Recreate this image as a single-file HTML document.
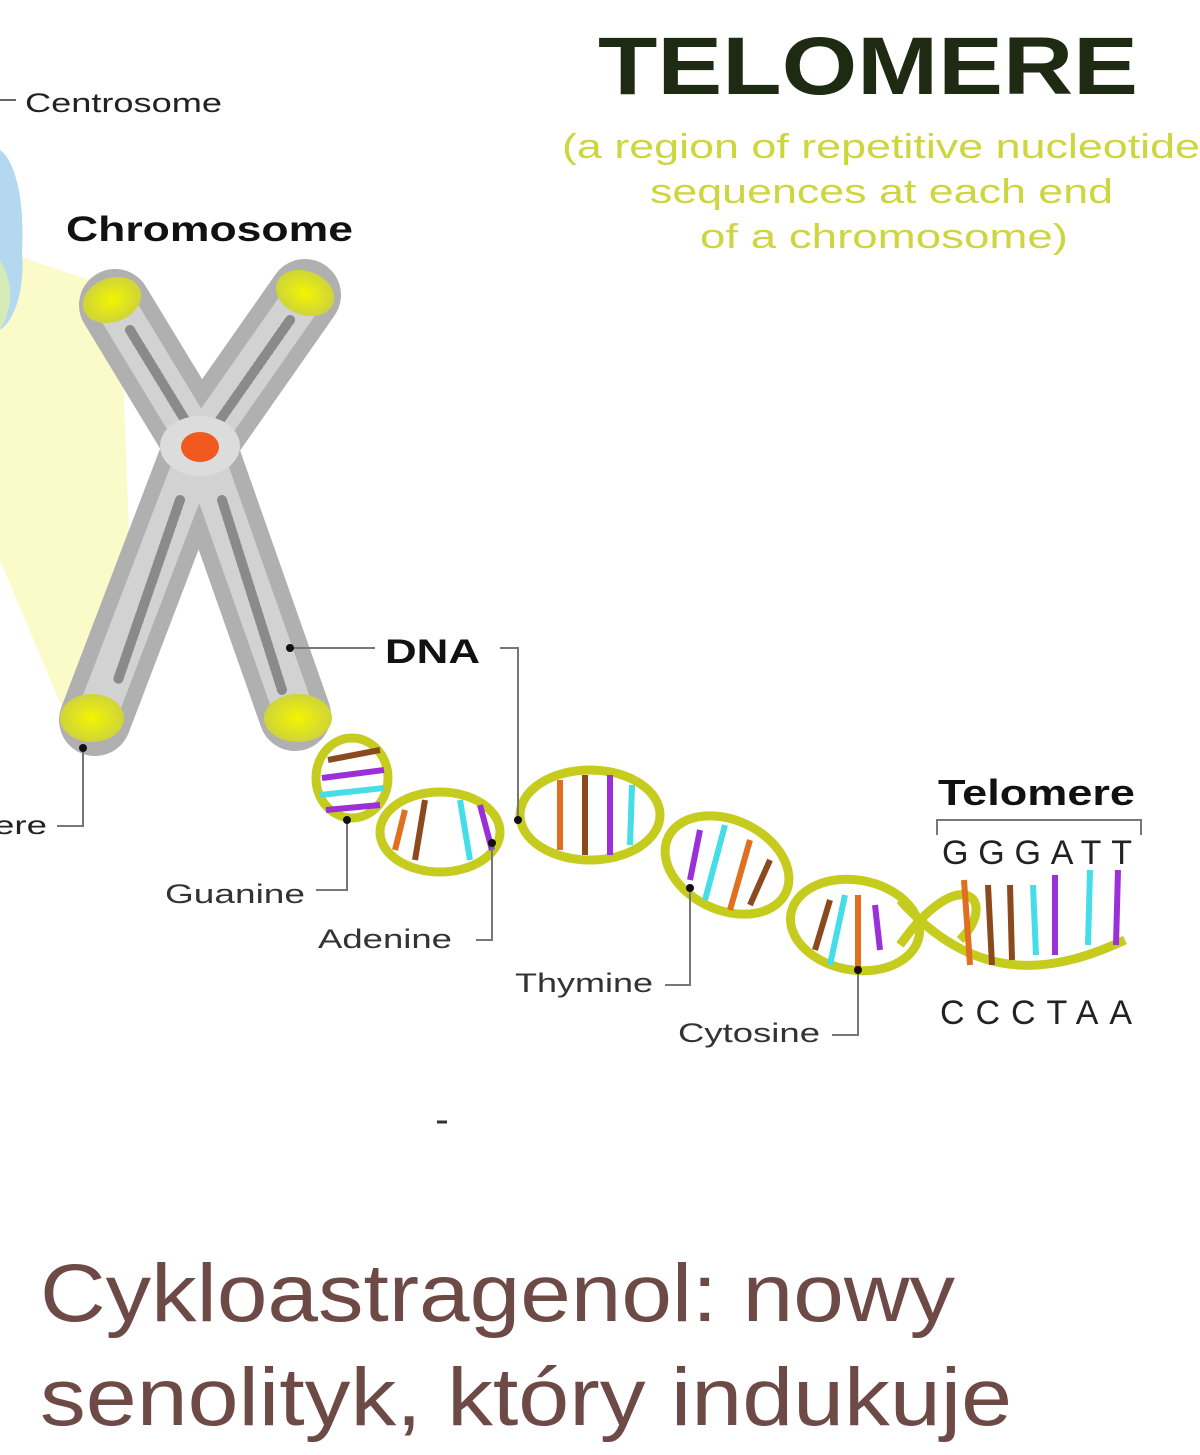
<!DOCTYPE html>
<html><head><meta charset="utf-8"><style>
html,body{margin:0;padding:0;background:#fff;}
svg{display:block}
text{font-family:"Liberation Sans",Arial,sans-serif}
</style></head><body>
<svg width="1200" height="1455" viewBox="0 0 1200 1455" xmlns="http://www.w3.org/2000/svg">
<defs>
<radialGradient id="cap"><stop offset="0" stop-color="#f2f500"/><stop offset="1" stop-color="#cfd43a"/></radialGradient>
</defs>
<!-- yellow fan -->
<polygon points="0,250 120,290 130,560 80,750 0,560" fill="#fbfbc9"/>
<!-- blue blob -->
<path d="M0,150 C15,160 25,200 22,250 C25,290 15,320 0,330 Z" fill="#b3d8ef"/>
<path d="M0,260 C12,280 15,305 0,330 Z" fill="#d6ecb6"/>
<!-- title -->
<text x="598" y="94" font-size="82" font-weight="bold" fill="#1f2a12" textLength="540" lengthAdjust="spacingAndGlyphs">TELOMERE</text>
<g font-size="34" fill="#cdd63f">
<text x="562" y="158" textLength="638" lengthAdjust="spacingAndGlyphs">(a region of repetitive nucleotide</text>
<text x="650" y="203" textLength="463" lengthAdjust="spacingAndGlyphs">sequences at each end</text>
<text x="700" y="248" textLength="368" lengthAdjust="spacingAndGlyphs">of a chromosome)</text>
</g>
<line x1="0" y1="100" x2="16" y2="100" stroke="#666" stroke-width="2"/>
<text x="25" y="112" font-size="27" fill="#222" textLength="197" lengthAdjust="spacingAndGlyphs">Centrosome</text>
<text x="66" y="241" font-size="35" font-weight="bold" fill="#111" textLength="287" lengthAdjust="spacingAndGlyphs">Chromosome</text>
<!-- chromosome -->
<g stroke-linecap="round" fill="none">
<path d="M115,305 L200,445 L95,720" stroke="#b0b0b0" stroke-width="72"/>
<path d="M305,295 L200,445 L295,715" stroke="#b0b0b0" stroke-width="72"/>
<path d="M115,305 L200,445 L95,720" stroke="#d2d2d2" stroke-width="40"/>
<path d="M305,295 L200,445 L295,715" stroke="#d2d2d2" stroke-width="40"/>
<path d="M130,330 L185,420 M180,500 L118,680 M290,320 L220,420 M222,500 L282,690" stroke="#8a8a8a" stroke-width="10" stroke-dasharray="3 3"/>
</g>
<ellipse cx="200" cy="446" rx="40" ry="30" fill="#dcdcdc"/>
<ellipse cx="200" cy="447" rx="19" ry="15" fill="#f05a1e"/>
<ellipse cx="112" cy="300" rx="30" ry="22" fill="url(#cap)" transform="rotate(-20 112 300)"/>
<ellipse cx="305" cy="293" rx="30" ry="22" fill="url(#cap)" transform="rotate(20 305 293)"/>
<ellipse cx="92" cy="718" rx="32" ry="24" fill="url(#cap)"/>
<ellipse cx="298" cy="718" rx="34" ry="24" fill="url(#cap)"/>
<!-- DNA helix strands -->
<g fill="none" stroke="#c5cc1e" stroke-width="9">
<ellipse cx="352" cy="778" rx="36" ry="40"/>
<ellipse cx="440" cy="832" rx="60" ry="40"/>
<ellipse cx="590" cy="815" rx="70" ry="45"/>
<ellipse cx="727" cy="865" rx="65" ry="45" transform="rotate(25 727 865)"/>
<ellipse cx="855" cy="925" rx="65" ry="45" transform="rotate(10 855 925)"/>
<path d="M900,945 C960,860 1000,900 960,940 M900,900 C980,990 1060,970 1125,940"/>
</g>
<g stroke-width="6">
<line x1="328" y1="760" x2="380" y2="750" stroke="#8a4a1e"/>
<line x1="322" y1="778" x2="384" y2="770" stroke="#9b30d8"/>
<line x1="320" y1="795" x2="384" y2="788" stroke="#45dde8"/>
<line x1="326" y1="810" x2="380" y2="805" stroke="#9b30d8"/>
<line x1="405" y1="810" x2="395" y2="850" stroke="#e07020"/>
<line x1="425" y1="800" x2="415" y2="860" stroke="#8a4a1e"/>
<line x1="460" y1="800" x2="470" y2="860" stroke="#45dde8"/>
<line x1="480" y1="805" x2="492" y2="850" stroke="#9b30d8"/>
<line x1="560" y1="780" x2="560" y2="850" stroke="#e07020"/>
<line x1="585" y1="775" x2="585" y2="855" stroke="#8a4a1e"/>
<line x1="610" y1="775" x2="610" y2="855" stroke="#9b30d8"/>
<line x1="632" y1="785" x2="630" y2="845" stroke="#45dde8"/>
<line x1="700" y1="830" x2="690" y2="880" stroke="#9b30d8"/>
<line x1="725" y1="825" x2="705" y2="900" stroke="#45dde8"/>
<line x1="750" y1="840" x2="730" y2="910" stroke="#e07020"/>
<line x1="770" y1="860" x2="750" y2="905" stroke="#8a4a1e"/>
<line x1="830" y1="900" x2="815" y2="950" stroke="#8a4a1e"/>
<line x1="845" y1="895" x2="830" y2="965" stroke="#45dde8"/>
<line x1="858" y1="895" x2="858" y2="970" stroke="#e07020"/>
<line x1="875" y1="905" x2="880" y2="950" stroke="#9b30d8"/>
<line x1="964" y1="880" x2="970" y2="965" stroke="#e07020"/>
<line x1="988" y1="885" x2="992" y2="965" stroke="#8a4a1e"/>
<line x1="1010" y1="885" x2="1012" y2="960" stroke="#8a4a1e"/>
<line x1="1033" y1="885" x2="1036" y2="955" stroke="#45dde8"/>
<line x1="1055" y1="875" x2="1055" y2="955" stroke="#9b30d8"/>
<line x1="1090" y1="870" x2="1088" y2="945" stroke="#45dde8"/>
<line x1="1118" y1="870" x2="1116" y2="945" stroke="#9b30d8"/>
</g>
<!-- leader lines -->
<g stroke="#777" stroke-width="2" fill="none">
<polyline points="290,648 375,648"/>
<polyline points="500,648 518,648 518,820"/>
<polyline points="57,826 83,826 83,748"/>
<polyline points="316,890 347,890 347,820"/>
<polyline points="476,940 492,940 492,843"/>
<polyline points="665,985 690,985 690,888"/>
<polyline points="832,1035 858,1035 858,970"/>
<polyline points="937,835 937,820 1141,820 1141,835"/>
</g>
<g fill="#111">
<circle cx="290" cy="648" r="4"/><circle cx="83" cy="748" r="4"/><circle cx="347" cy="820" r="4"/>
<circle cx="518" cy="820" r="4"/><circle cx="492" cy="843" r="4"/><circle cx="690" cy="888" r="4"/><circle cx="858" cy="970" r="4"/>
</g>
<text x="385" y="663" font-size="34" font-weight="bold" fill="#111" textLength="95" lengthAdjust="spacingAndGlyphs">DNA</text>
<text x="-6" y="834" font-size="26" fill="#222" textLength="53" lengthAdjust="spacingAndGlyphs">ere</text>
<g font-size="27" fill="#333">
<text x="165" y="903" textLength="140" lengthAdjust="spacingAndGlyphs">Guanine</text>
<text x="318" y="948" textLength="134" lengthAdjust="spacingAndGlyphs">Adenine</text>
<text x="515" y="992" textLength="138" lengthAdjust="spacingAndGlyphs">Thymine</text>
<text x="678" y="1042" textLength="142" lengthAdjust="spacingAndGlyphs">Cytosine</text>
</g>
<text x="938" y="805" font-size="36" font-weight="bold" fill="#111" textLength="197" lengthAdjust="spacingAndGlyphs">Telomere</text>
<text x="942" y="864" font-size="34" fill="#222" textLength="190" lengthAdjust="spacing">GGGATT</text>
<text x="940" y="1024" font-size="34" fill="#222" textLength="192" lengthAdjust="spacing">CCCTAA</text>
<line x1="437" y1="1122" x2="447" y2="1122" stroke="#333" stroke-width="3"/>
<g font-size="82" fill="#6e4a47">
<text x="40" y="1321" textLength="915" lengthAdjust="spacingAndGlyphs">Cykloastragenol: nowy</text>
<text x="40" y="1425" textLength="972" lengthAdjust="spacingAndGlyphs">senolityk, który indukuje</text>
</g>
</svg>
</body></html>
